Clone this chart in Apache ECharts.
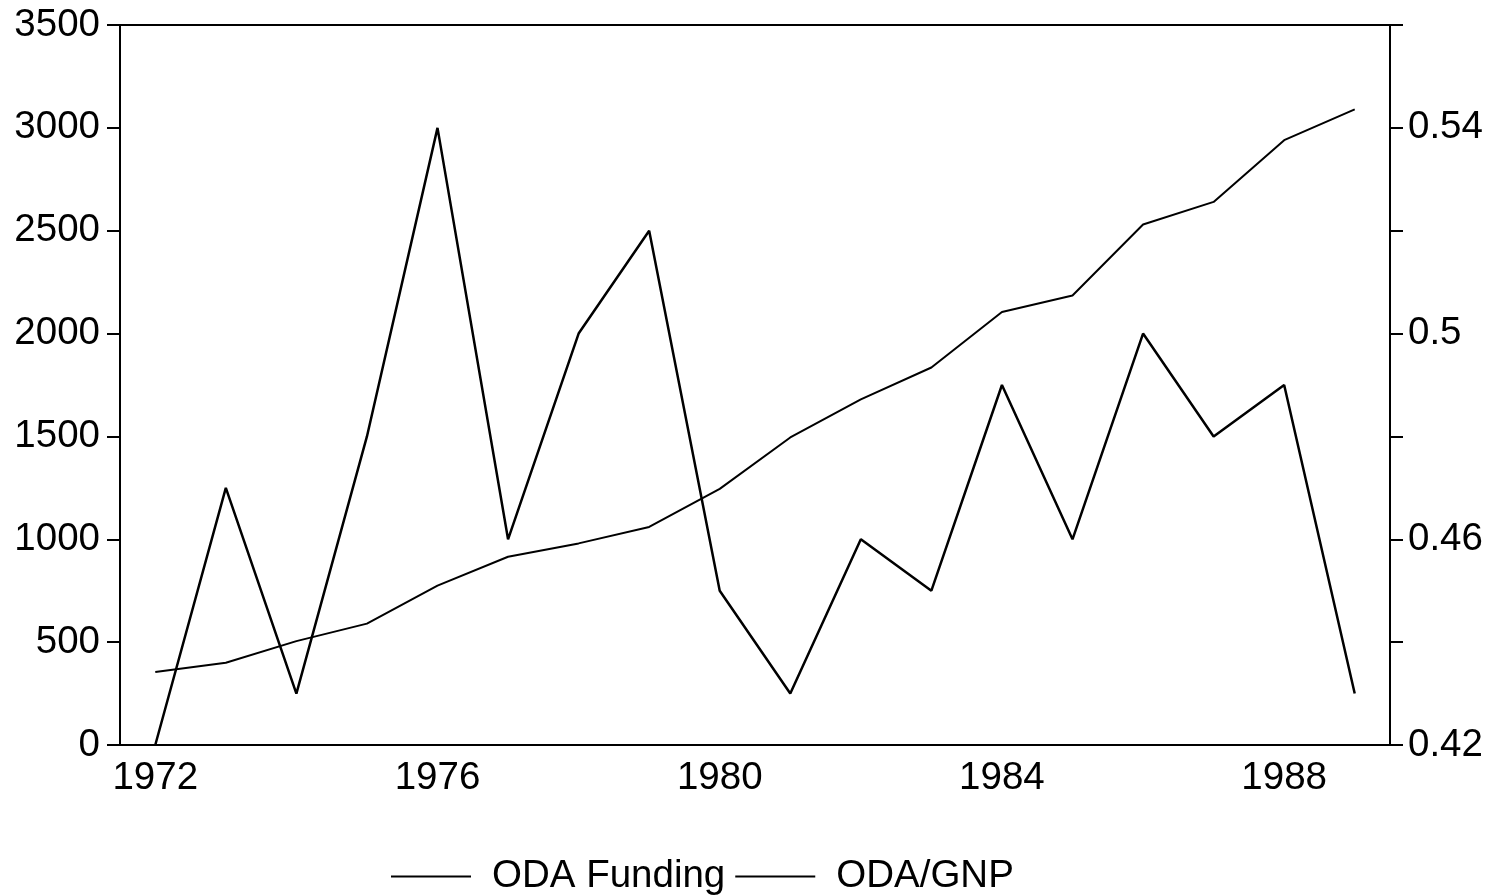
<!DOCTYPE html>
<html>
<head>
    <meta charset="utf-8">
    <title>ODA</title>
    <script src="https://cdn.jsdelivr.net/npm/echarts@6/dist/echarts.min.js"></script>
    <style>
        html, body, #main {
            width: 100%;
            height: 100%;
            margin: 0;
            background: #fff;
        }
    </style>
</head>
<body>
    <div id="main"></div>
    <script type="text/javascript">
        // data
        var years = ['1972', '1973', '1974', '1975', '1976', '1977', '1978', '1979', '1980',
                     '1981', '1982', '1983', '1984', '1985', '1986', '1987', '1988', '1989'];
        var odaFunding = [355, 400, 505, 590, 775, 915, 980, 1060, 1245,
                          1495, 1680, 1835, 2105, 2185, 2530, 2640, 2940, 3090];
        var odaGnp = [0.42, 0.47, 0.43, 0.48, 0.54, 0.46, 0.50, 0.52, 0.45,
                      0.43, 0.46, 0.45, 0.49, 0.46, 0.50, 0.48, 0.49, 0.43];
        var shownYears = ['1972', '1976', '1980', '1984', '1988'];

        var font = "'Liberation Sans', Arial, sans-serif";
        var fs = 38.5;
        var myChart = echarts.init(document.getElementById('main'));

        var option = {
            animation: false,
            backgroundColor: '#fff',
            grid: {
                left: 120,
                right: 104,
                top: 25,
                bottom: 151,
                show: true,
                borderColor: '#000',
                borderWidth: 2,
                backgroundColor: 'transparent'
            },
            legend: {
                top: 852,
                left: 386,
                icon: 'rect',
                itemWidth: 80,
                itemHeight: 2,
                itemGap: 10,
                textStyle: {
                    color: '#000',
                    fontSize: fs,
                    fontFamily: font,
                    padding: [0, 0, 0, 16]
                },
                data: ['ODA Funding', 'ODA/GNP']
            },
            xAxis: {
                type: 'category',
                data: years,
                boundaryGap: true,
                axisLine: { lineStyle: { color: '#000', width: 2 } },
                axisTick: {
                    alignWithLabel: true,
                    interval: 0,
                    length: 12,
                    lineStyle: { color: '#000', width: 2 }
                },
                axisLabel: {
                    interval: 0,
                    margin: 14,
                    color: '#000',
                    fontSize: fs,
                    fontFamily: font,
                    formatter: function (v) {
                        return shownYears.indexOf(v) >= 0 ? v : '';
                    }
                },
                splitLine: { show: false }
            },
            yAxis: [{
                type: 'value',
                min: 0,
                max: 3500,
                interval: 500,
                axisLine: { show: true, lineStyle: { color: '#000', width: 2 } },
                axisTick: { show: true, length: 13, lineStyle: { color: '#000', width: 2 } },
                axisLabel: {
                    margin: 20,
                    color: '#000',
                    fontSize: fs,
                    fontFamily: font,
                    formatter: function (v) { return String(v); }
                },
                splitLine: { show: false }
            }, {
                type: 'value',
                min: 0.42,
                max: 0.56,
                interval: 0.02,
                position: 'right',
                axisLine: { show: true, lineStyle: { color: '#000', width: 2 } },
                axisTick: { show: true, length: 13, lineStyle: { color: '#000', width: 2 } },
                axisLabel: {
                    margin: 18,
                    color: '#000',
                    fontSize: fs,
                    fontFamily: font,
                    formatter: function (v) {
                        var k = Math.round((v - 0.42) / 0.02);
                        if (k % 2 !== 0) return '';
                        return String(parseFloat(v.toFixed(2)));
                    }
                },
                splitLine: { show: false }
            }],
            series: [{
                name: 'ODA Funding',
                type: 'line',
                yAxisIndex: 0,
                data: odaFunding,
                symbol: 'none',
                color: '#000',
                lineStyle: { color: '#000', width: 2 }
            }, {
                name: 'ODA/GNP',
                type: 'line',
                yAxisIndex: 1,
                data: odaGnp,
                symbol: 'none',
                color: '#000',
                lineStyle: { color: '#000', width: 2.5 }
            }]
        };

        if (option && typeof option === "object") {
            myChart.setOption(option, true);
        }
    </script>
</body>
</html>
